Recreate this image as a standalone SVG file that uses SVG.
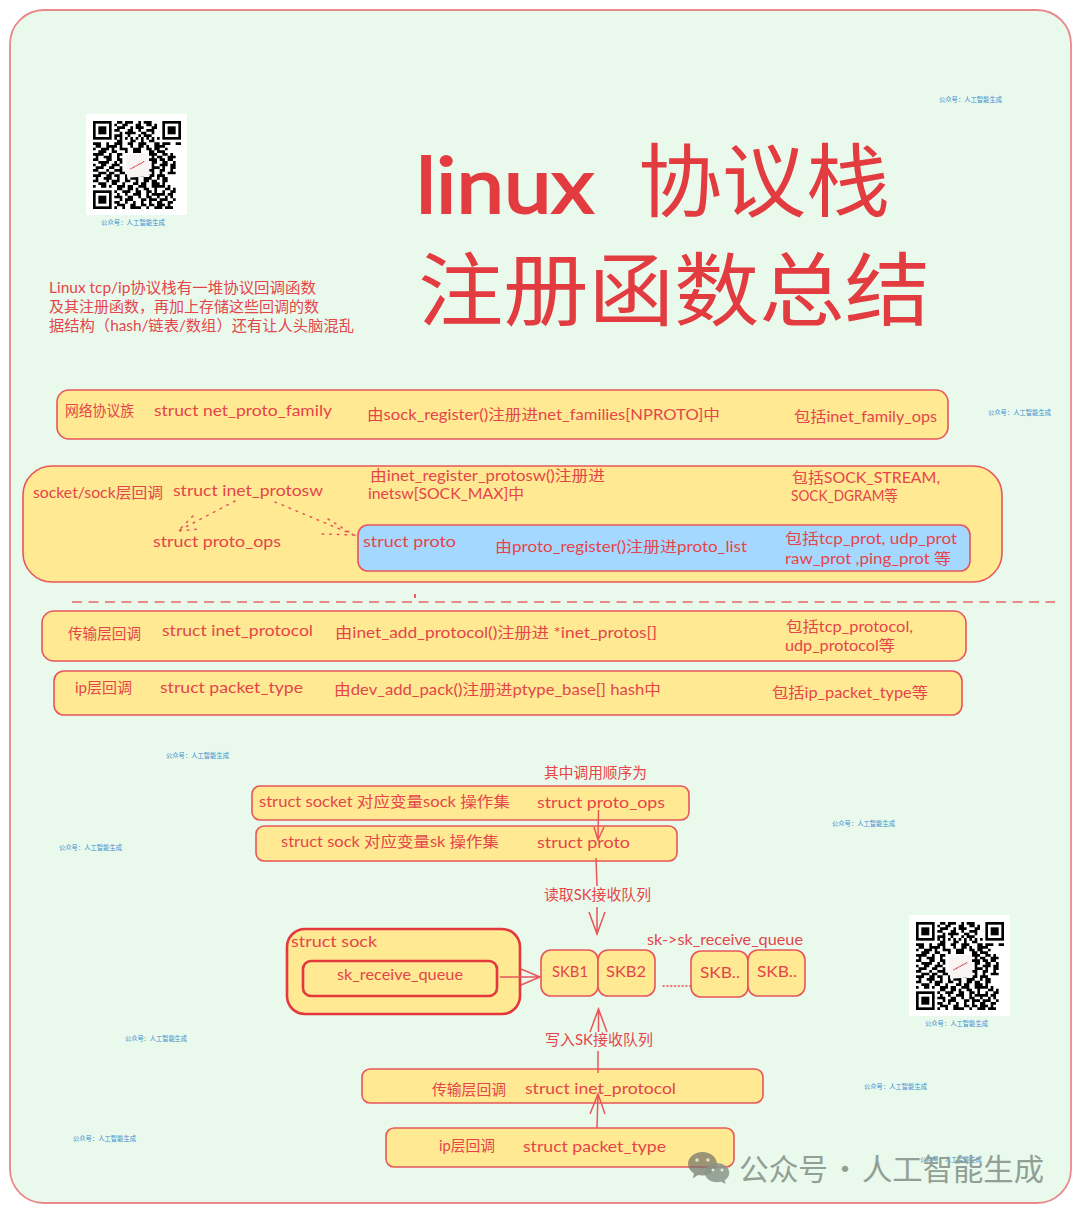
<svg xmlns="http://www.w3.org/2000/svg" width="1080" height="1212" viewBox="0 0 1080 1212">
<style>
text{font-family:"Lato","Noto Sans CJK SC",sans-serif;}
.t{fill:#e5454a;font-size:15px;}
.h{fill:#e23b40;font-weight:400;font-size:80px;font-family:"Noto Sans CJK SC",sans-serif;}
.w{fill:#3f8fd0;font-size:6.5px;font-family:"Noto Sans CJK SC",sans-serif;}
.f{fill:#919f95;font-size:30px;font-family:"Noto Sans CJK SC",sans-serif;}
.b{fill:#ffe993;stroke:#e8555a;stroke-width:1.6;}
.k{fill:#ffe993;stroke:#e5383e;stroke-width:2.6;}
.u{fill:#a5d8ff;stroke:#e8555a;stroke-width:1.6;}
.c{fill:none;stroke:#e8555a;stroke-width:1.5;}
.d{fill:none;stroke:#e8555a;stroke-width:1.5;stroke-dasharray:1.6 6;stroke-linecap:round;}
</style>
<defs>
<symbol id="qr" viewBox="0 0 33 33">
<path fill="none" stroke="#000" stroke-width="1" d="M9 .5h2m1 0h3m2 0h1m1 0h3M8 1.5h1m2 0h2m3 0h2m2 0h2m1 0h1M9 2.5h3m2 0h1m1 0h3m3 0h2M8 3.5h2m3 0h2m2 0h1m2 0h3M10 4.5h1m1 0h4m2 0h2m2 0h1M8 5.5h3m2 0h1m3 0h1m1 0h3M8 6.5h1m1 0h1m1 0h1m1 0h1m1 0h1m1 0h1m1 0h1m1 0h1m1 0h1M9 7.5h2m3 0h2m2 0h1m2 0h2M0 8.5h3m2 0h1m2 0h3m2 0h2m2 0h3m3 0h2m1 0h3m2 0h2M1 9.5h2m2 0h4m1 0h1m3 0h1m2 0h2m1 0h1m2 0h4M0 10.5h1m2 0h3m1 0h1m2 0h3m2 0h3m2 0h2m1 0h2m2 0h1M2 11.5h3m2 0h2m3 0h1m2 0h3m3 0h2m1 0h3M0 12.5h4m2 0h1m2 0h2m10 0h3m2 0h2m1 0h1M1 13.5h1m2 0h3m2 0h1m12 0h1m1 0h2m2 0h3M0 14.5h2m3 0h2m2 0h2m10 0h3m1 0h2m1 0h2M2 15.5h4m2 0h1m1 0h1m11 0h2m2 0h2m2 0h1M0 16.5h1m2 0h2m2 0h3m12 0h1m2 0h3m1 0h2M1 17.5h3m2 0h2m2 0h1m11 0h3m1 0h1m2 0h2M0 18.5h2m3 0h1m2 0h3m10 0h2m2 0h2m2 0h1M2 19.5h3m1 0h2m2 0h2m10 0h1m2 0h1m2 0h3M0 20.5h3m2 0h2m1 0h2m2 0h3m2 0h2m2 0h2m1 0h3M1 21.5h1m2 0h3m2 0h1m2 0h1m1 0h3m2 0h3m2 0h1m1 0h2M0 22.5h2m3 0h1m1 0h3m2 0h2m2 0h1m2 0h2m1 0h2m2 0h2M2 23.5h3m2 0h2m2 0h1m3 0h2m1 0h2m2 0h3m1 0h1M0 24.5h1m2 0h2m1 0h1m2 0h3m1 0h2m2 0h3m2 0h5m1 0h1M9 25.5h2m2 0h2m1 0h1m2 0h2m2 0h1m3 0h2m1 0h1M8 26.5h1m2 0h3m2 0h2m2 0h2m1 0h1m2 0h1m2 0h2M9 27.5h1m2 0h1m2 0h3m2 0h1m1 0h5m1 0h2M8 28.5h3m2 0h2m2 0h1m2 0h2m2 0h1m2 0h1m1 0h1M10 29.5h1m1 0h3m3 0h2m1 0h3m1 0h3m2 0h1M8 30.5h2m2 0h1m2 0h1m2 0h1m2 0h1m2 0h2m2 0h2M9 31.5h3m2 0h2m2 0h2m1 0h2m1 0h3m1 0h1M8 32.5h1m2 0h1m2 0h4m2 0h1m2 0h3m1 0h3"/>
<g fill="none" stroke="#000"><rect x=".5" y=".5" width="6" height="6"/><rect x="26.5" y=".5" width="6" height="6"/><rect x=".5" y="26.5" width="6" height="6"/></g>
<rect x="2" y="2" width="3" height="3"/><rect x="28" y="2" width="3" height="3"/><rect x="2" y="28" width="3" height="3"/>
<rect x="12.500" y="12.500" width="8.500" height="8.500" fill="#f8f4f4" transform="rotate(-4 16.500 16.500)"/>
<path d="M14 18L19.200 15.200" stroke="#d8404a" stroke-width=".45" stroke-dasharray=".4 .15"/>
</symbol>
</defs>

<rect id="page" x="10" y="10" width="1061" height="1193" rx="34" fill="#e9faec" stroke="#e8888a" stroke-width="1.8"/>

<g id="title">
<text class="h" x="416" y="213" textLength="178" lengthAdjust="spacingAndGlyphs" style="font-family:Lato,sans-serif;font-size:78px;stroke:#e23b40;stroke-width:2">linux</text>
<text class="h" x="638" y="210" textLength="252" lengthAdjust="spacingAndGlyphs">协议栈</text>
<text class="h" x="418" y="319" textLength="512" lengthAdjust="spacingAndGlyphs">注册函数总结</text>
</g>

<g id="qr-top"><rect x="86" y="114" width="101" height="101" fill="#fff"/><use href="#qr" x="93" y="121" width="88" height="88"/></g>
<g id="qr-bottom"><rect x="909" y="915" width="101" height="101" fill="#fff"/><use href="#qr" x="916" y="922" width="88" height="88"/></g>

<g id="intro">
<text class="t" x="49" y="293" textLength="267" lengthAdjust="spacingAndGlyphs">Linux tcp/ip协议栈有一堆协议回调函数</text>
<text class="t" x="49" y="312" textLength="270" lengthAdjust="spacingAndGlyphs">及其注册函数，再加上存储这些回调的数</text>
<text class="t" x="49" y="331" textLength="305" lengthAdjust="spacingAndGlyphs">据结构（hash/链表/数组）还有让人头脑混乱</text>
</g>

<g id="net-proto-family">
<rect class="b" x="57" y="390" width="891" height="49" rx="12"/>
<text class="t" x="65" y="416" textLength="69" lengthAdjust="spacingAndGlyphs">网络协议族</text>
<text class="t" x="154" y="416" textLength="178" lengthAdjust="spacingAndGlyphs">struct net_proto_family</text>
<text class="t" x="367" y="420" textLength="353" lengthAdjust="spacingAndGlyphs">由sock_register()注册进net_families[NPROTO]中</text>
<text class="t" x="794" y="422" textLength="143" lengthAdjust="spacingAndGlyphs">包括inet_family_ops</text>
</g>

<g id="socket-sock-layer">
<rect class="b" x="23" y="466" width="979" height="116" rx="29"/>
<text class="t" x="33" y="498" textLength="130" lengthAdjust="spacingAndGlyphs">socket/sock层回调</text>
<text class="t" x="173" y="496" textLength="150" lengthAdjust="spacingAndGlyphs">struct inet_protosw</text>
<text class="t" x="370" y="481" textLength="235" lengthAdjust="spacingAndGlyphs">由inet_register_protosw()注册进</text>
<text class="t" x="368" y="499" textLength="156" lengthAdjust="spacingAndGlyphs">inetsw[SOCK_MAX]中</text>
<text class="t" x="792" y="483" textLength="148" lengthAdjust="spacingAndGlyphs">包括SOCK_STREAM,</text>
<text class="t" x="791" y="501" textLength="107" lengthAdjust="spacingAndGlyphs">SOCK_DGRAM等</text>
<text class="t" x="153" y="547" textLength="128" lengthAdjust="spacingAndGlyphs">struct proto_ops</text>
</g>

<g id="struct-proto">
<rect class="u" x="358" y="525" width="612" height="46" rx="10"/>
<text class="t" x="363" y="547" textLength="93" lengthAdjust="spacingAndGlyphs">struct proto</text>
<text class="t" x="495" y="552" textLength="252" lengthAdjust="spacingAndGlyphs">由proto_register()注册进proto_list</text>
<text class="t" x="785" y="544" textLength="172" lengthAdjust="spacingAndGlyphs">包括tcp_prot, udp_prot</text>
<text class="t" x="785" y="564" textLength="166" lengthAdjust="spacingAndGlyphs">raw_prot ,ping_prot 等</text>
</g>

<g id="divider">
<path d="M72 602H1055" fill="none" stroke="#e8666a" stroke-width="1.5" stroke-dasharray="10 6.5"/>
<path d="M415 594v4" fill="none" stroke="#e5383e" stroke-width="1.6"/>
</g>

<g id="inet-protocol">
<rect class="b" x="42" y="611" width="924" height="50" rx="12"/>
<text class="t" x="68" y="639" textLength="73" lengthAdjust="spacingAndGlyphs">传输层回调</text>
<text class="t" x="162" y="636" textLength="151" lengthAdjust="spacingAndGlyphs">struct inet_protocol</text>
<text class="t" x="335" y="638" textLength="322" lengthAdjust="spacingAndGlyphs">由inet_add_protocol()注册进 *inet_protos[]</text>
<text class="t" x="786" y="632" textLength="127" lengthAdjust="spacingAndGlyphs">包括tcp_protocol,</text>
<text class="t" x="785" y="651" textLength="110" lengthAdjust="spacingAndGlyphs">udp_protocol等</text>
</g>

<g id="packet-type">
<rect class="b" x="54" y="671" width="908" height="44" rx="10"/>
<text class="t" x="75" y="693" textLength="57" lengthAdjust="spacingAndGlyphs">ip层回调</text>
<text class="t" x="160" y="693" textLength="143" lengthAdjust="spacingAndGlyphs">struct packet_type</text>
<text class="t" x="334" y="695" textLength="327" lengthAdjust="spacingAndGlyphs">由dev_add_pack()注册进ptype_base[] hash中</text>
<text class="t" x="772" y="698" textLength="156" lengthAdjust="spacingAndGlyphs">包括ip_packet_type等</text>
</g>

<g id="call-order"><text class="t" x="544" y="778" textLength="103" lengthAdjust="spacingAndGlyphs">其中调用顺序为</text></g>

<g id="socket-ops">
<rect class="b" x="252" y="786" width="437" height="34" rx="8"/>
<text class="t" x="259" y="807" textLength="251" lengthAdjust="spacingAndGlyphs">struct socket 对应变量sock 操作集</text>
<text class="t" x="537" y="808" textLength="128" lengthAdjust="spacingAndGlyphs">struct proto_ops</text>
</g>
<g id="sock-ops">
<rect class="b" x="256" y="826" width="421" height="35" rx="8"/>
<text class="t" x="281" y="847" textLength="218" lengthAdjust="spacingAndGlyphs">struct sock 对应变量sk 操作集</text>
<text class="t" x="537" y="848" textLength="93" lengthAdjust="spacingAndGlyphs">struct proto</text>
</g>

<g id="struct-sock">
<rect class="k" x="287" y="929" width="233" height="85" rx="18"/>
<text class="t" x="291" y="947" textLength="86" lengthAdjust="spacingAndGlyphs">struct sock</text>
<rect class="k" x="303" y="961" width="194" height="35" rx="8"/>
<text class="t" x="337" y="980" textLength="126" lengthAdjust="spacingAndGlyphs">sk_receive_queue</text>
</g>

<g id="skb1"><rect class="b" x="541" y="950" width="57" height="46" rx="10"/><text class="t" x="552" y="977" textLength="36" lengthAdjust="spacingAndGlyphs">SKB1</text></g>
<g id="skb2"><rect class="b" x="598" y="950" width="57" height="46" rx="10"/><text class="t" x="606" y="977" textLength="40" lengthAdjust="spacingAndGlyphs">SKB2</text></g>
<g id="skb3"><rect class="b" x="691" y="951" width="57" height="46" rx="10"/><text class="t" x="700" y="978" textLength="40" lengthAdjust="spacingAndGlyphs">SKB..</text></g>
<g id="skb4"><rect class="b" x="748" y="950" width="57" height="46" rx="10"/><text class="t" x="757" y="977" textLength="40" lengthAdjust="spacingAndGlyphs">SKB..</text></g>
<g id="queue-label"><text class="t" x="647" y="945" textLength="156" lengthAdjust="spacingAndGlyphs">sk-&gt;sk_receive_queue</text></g>

<g id="read-label"><text class="t" x="544" y="900" textLength="107" lengthAdjust="spacingAndGlyphs">读取SK接收队列</text></g>
<g id="write-label"><text class="t" x="545" y="1045" textLength="108" lengthAdjust="spacingAndGlyphs">写入SK接收队列</text></g>

<g id="transport-callback">
<rect class="b" x="362" y="1069" width="401" height="34" rx="8"/>
<text class="t" x="432" y="1095" textLength="74" lengthAdjust="spacingAndGlyphs">传输层回调</text>
<text class="t" x="525" y="1094" textLength="151" lengthAdjust="spacingAndGlyphs">struct inet_protocol</text>
</g>
<g id="ip-callback">
<rect class="b" x="386" y="1128" width="348" height="39" rx="8"/>
<text class="t" x="439" y="1151" textLength="56" lengthAdjust="spacingAndGlyphs">ip层回调</text>
<text class="t" x="523" y="1152" textLength="143" lengthAdjust="spacingAndGlyphs">struct packet_type</text>
</g>

<g id="connectors">
<path class="d" d="M235 501L178 531M193 516L178 531L200 529"/>
<path class="d" d="M275 502L354 535M328 519L354 535L322 534"/>
<path class="c" d="M598.500 810L598 840M594 827L598 840L604 827"/>
<path class="c" d="M596 858L597 886"/>
<path class="c" d="M597 907L597 934M589 912L597 934L605 912"/>
<path class="c" d="M500 977H540M521 969L540 977L521 985"/>
<path class="d" style="stroke-dasharray:1.2 2.6" d="M663 986H691"/>
<path class="c" d="M598.500 1009L598.500 1032M590 1032L598.500 1009L607 1032"/>
<path class="c" d="M598 1051L598 1073"/>
<path class="c" d="M597 1128L598 1094M590 1114L598 1094L605 1114"/>
</g>

<g id="watermarks">
<text class="w" x="939" y="102" textLength="63" lengthAdjust="spacingAndGlyphs">公众号：人工智能生成</text>
<text class="w" x="988" y="415" textLength="63" lengthAdjust="spacingAndGlyphs">公众号：人工智能生成</text>
<text class="w" x="101" y="225" textLength="64" lengthAdjust="spacingAndGlyphs">公众号：人工智能生成</text>
<text class="w" x="166" y="758" textLength="63" lengthAdjust="spacingAndGlyphs">公众号：人工智能生成</text>
<text class="w" x="832" y="826" textLength="63" lengthAdjust="spacingAndGlyphs">公众号：人工智能生成</text>
<text class="w" x="59" y="850" textLength="63" lengthAdjust="spacingAndGlyphs">公众号：人工智能生成</text>
<text class="w" x="925" y="1026" textLength="63" lengthAdjust="spacingAndGlyphs">公众号：人工智能生成</text>
<text class="w" x="125" y="1041" textLength="62" lengthAdjust="spacingAndGlyphs">公众号：人工智能生成</text>
<text class="w" x="864" y="1089" textLength="63" lengthAdjust="spacingAndGlyphs">公众号：人工智能生成</text>
<text class="w" x="73" y="1141" textLength="63" lengthAdjust="spacingAndGlyphs">公众号：人工智能生成</text>
<text class="w" x="920" y="1162" textLength="62" lengthAdjust="spacingAndGlyphs">公众号：人工智能生成</text>
</g>

<g id="brand">
<path d="M702.500 1152c8 0 14.500 5.300 14.500 11.800s-6.500 11.700-14.500 11.700c-1.500 0-3-.2-4.400-.5l-5.100 3.200.9-4.800c-3.600-2.200-5.900-5.600-5.900-9.600 0-6.500 6.500-11.800 14.500-11.800z" fill="#707068" fill-opacity=".7"/>
<path d="M717 1163c6.800 0 12.300 4.400 12.300 9.800 0 3.100-1.800 5.800-4.600 7.600l.9 3.700-4.300-2.300c-1.300.3-2.800.5-4.300.5-6.800 0-12.300-4.200-12.300-9.500s5.500-9.800 12.300-9.800z" fill="#88948a" fill-opacity=".85"/>
<circle cx="697" cy="1160" r="1.700" fill="#e9e6c8"/><circle cx="708" cy="1160" r="1.700" fill="#e9e6c8"/>
<circle cx="713" cy="1170" r="1.500" fill="#e4e8d8"/><circle cx="722" cy="1170" r="1.500" fill="#e4e8d8"/>
<text class="f" x="739" y="1180" textLength="89" lengthAdjust="spacingAndGlyphs">公众号</text>
<text class="f" x="830" y="1180">·</text>
<text class="f" x="862" y="1180" textLength="182" lengthAdjust="spacingAndGlyphs">人工智能生成</text>
</g>
</svg>
